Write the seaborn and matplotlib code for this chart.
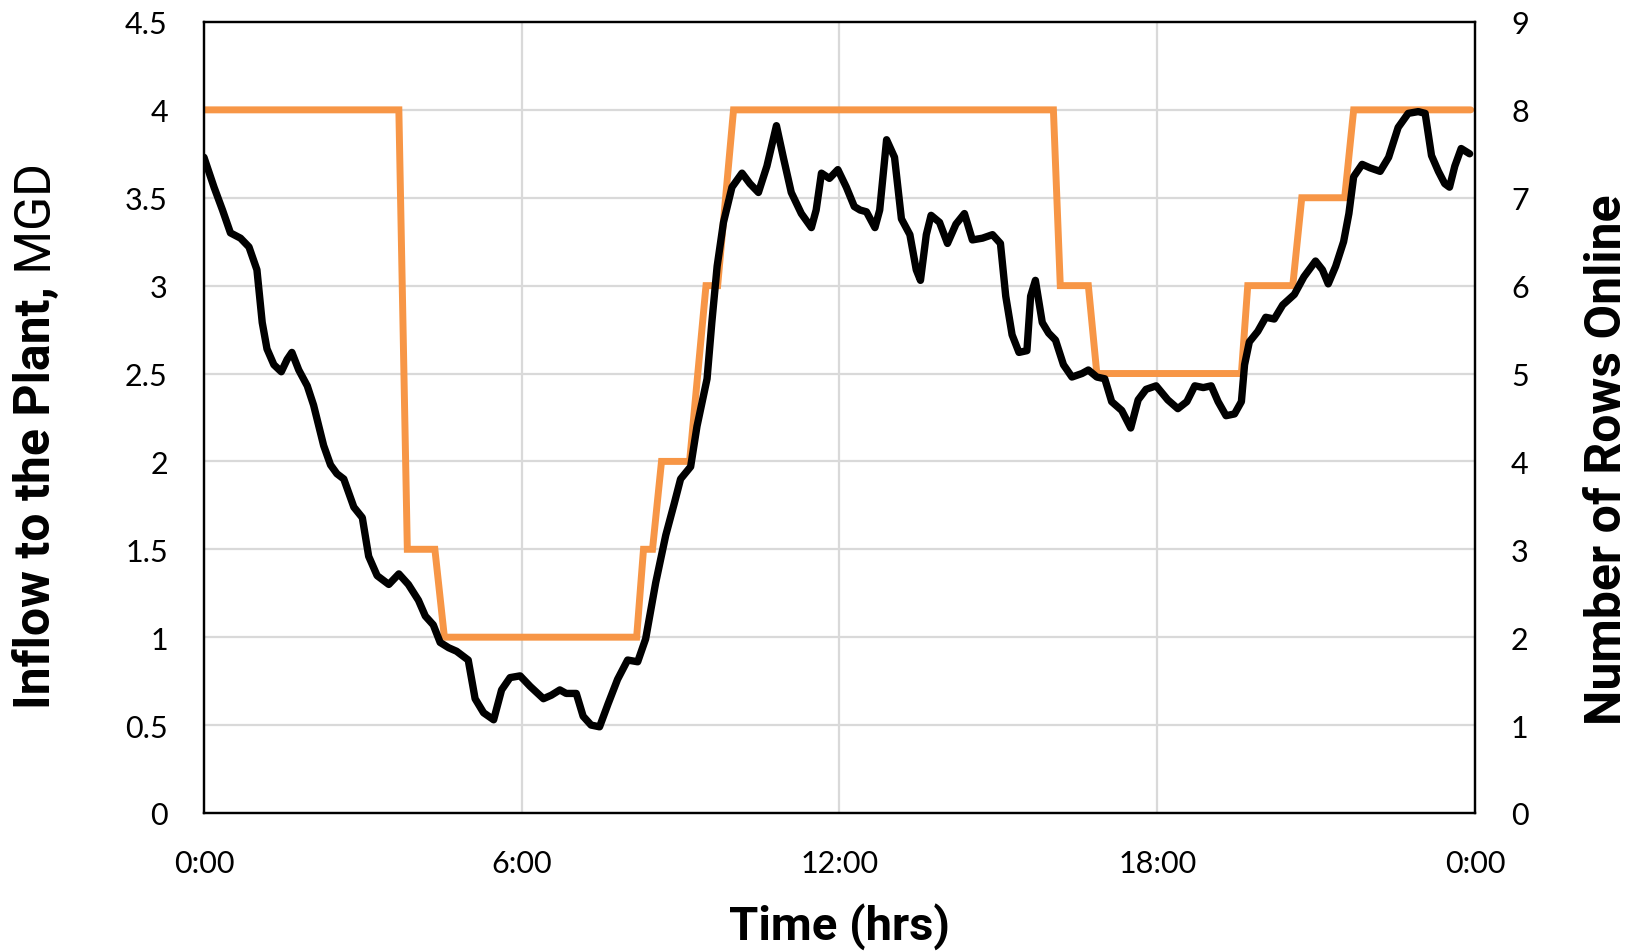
import matplotlib
matplotlib.use("Agg")
import matplotlib.pyplot as plt
import seaborn as sns
import pandas as pd
from matplotlib import font_manager

# ---------------- data ----------------
flow_hours = [0.00, 0.19, 0.35, 0.50, 0.69, 0.85, 1.00, 1.10, 1.19, 1.32, 1.46, 1.57, 1.66, 1.79,
              1.95, 2.07, 2.26, 2.39, 2.51, 2.64, 2.83, 2.99, 3.11, 3.27, 3.49, 3.68, 3.86, 4.05,
              4.18, 4.33, 4.46, 4.62, 4.77, 4.99, 5.12, 5.28, 5.47, 5.62, 5.78, 5.97, 6.16, 6.41,
              6.56, 6.72, 6.84, 7.03, 7.16, 7.31, 7.47, 7.63, 7.81, 8.00, 8.19, 8.34, 8.53, 8.72,
              8.88, 9.00, 9.19, 9.31, 9.50, 9.59, 9.69, 9.81, 9.97, 10.16, 10.31, 10.47, 10.63,
              10.81, 10.94, 11.09, 11.28, 11.47, 11.56, 11.66, 11.81, 11.97, 12.13, 12.28, 12.39,
              12.51, 12.67, 12.76, 12.89, 13.04, 13.17, 13.33, 13.45, 13.53, 13.64, 13.73, 13.89,
              14.04, 14.20, 14.36, 14.51, 14.70, 14.89, 15.04, 15.14, 15.26, 15.39, 15.54, 15.61,
              15.70, 15.83, 15.95, 16.08, 16.23, 16.39, 16.58, 16.70, 16.86, 17.01, 17.14, 17.33,
              17.50, 17.64, 17.79, 17.98, 18.20, 18.39, 18.56, 18.71, 18.87, 19.02, 19.15, 19.30,
              19.46, 19.59, 19.65, 19.74, 19.90, 20.05, 20.21, 20.37, 20.59, 20.77, 20.99, 21.12,
              21.23, 21.37, 21.52, 21.62, 21.71, 21.87, 22.02, 22.21, 22.37, 22.55, 22.74, 22.93,
              23.06, 23.18, 23.31, 23.43, 23.52, 23.62, 23.74, 23.90]
flow_mgd = [3.73, 3.56, 3.43, 3.30, 3.27, 3.22, 3.09, 2.79, 2.64, 2.55, 2.51, 2.58, 2.62, 2.52,
            2.43, 2.32, 2.09, 1.98, 1.93, 1.90, 1.74, 1.68, 1.46, 1.35, 1.30, 1.36, 1.30, 1.21,
            1.12, 1.07, 0.97, 0.94, 0.92, 0.87, 0.65, 0.57, 0.53, 0.70, 0.77, 0.78, 0.72, 0.65,
            0.67, 0.70, 0.68, 0.68, 0.55, 0.50, 0.49, 0.62, 0.76, 0.87, 0.86, 0.99, 1.31, 1.58,
            1.76, 1.90, 1.97, 2.20, 2.47, 2.79, 3.11, 3.36, 3.56, 3.64, 3.58, 3.53, 3.68,
            3.91, 3.73, 3.53, 3.41, 3.33, 3.43, 3.64, 3.61, 3.66, 3.56, 3.45, 3.43,
            3.42, 3.33, 3.43, 3.83, 3.73, 3.38, 3.29, 3.09, 3.03, 3.29, 3.40, 3.36,
            3.24, 3.35, 3.41, 3.26, 3.27, 3.29, 3.24, 2.94, 2.72, 2.62, 2.63, 2.94,
            3.03, 2.79, 2.73, 2.69, 2.55, 2.48, 2.50, 2.52, 2.48, 2.47, 2.34, 2.29,
            2.19, 2.35, 2.41, 2.43, 2.35, 2.30, 2.34, 2.43, 2.42, 2.43, 2.34, 2.26,
            2.27, 2.34, 2.55, 2.68, 2.74, 2.82, 2.81, 2.89, 2.95, 3.05, 3.14, 3.09,
            3.01, 3.11, 3.25, 3.41, 3.62, 3.69, 3.67, 3.65, 3.73, 3.90, 3.98, 3.99,
            3.98, 3.74, 3.65, 3.58, 3.56, 3.68, 3.78, 3.75]

rows_hours = [0.00, 3.68, 3.84, 4.36, 4.54, 8.17, 8.30, 8.47, 8.64, 9.17, 9.48, 9.70, 10.00,
              16.04, 16.17, 16.70, 16.86, 19.59, 19.71, 20.56, 20.73, 21.54, 21.71, 23.92]
rows_online = [8, 8, 3, 3, 2, 2, 3, 3, 4, 4, 6, 6, 8, 8, 6, 6, 5, 5, 6, 6, 7, 7, 8, 8]

x_ticks = [0, 6, 12, 18, 24]
x_tick_labels = ["0:00", "6:00", "12:00", "18:00", "0:00"]
left_ticks = [0, 0.5, 1, 1.5, 2, 2.5, 3, 3.5, 4, 4.5]
left_tick_labels = ["0", "0.5", "1", "1.5", "2", "2.5", "3", "3.5", "4", "4.5"]
right_ticks = [0, 1, 2, 3, 4, 5, 6, 7, 8, 9]

# ---------------- style ----------------
sns.set_theme(style="white")
available = {f.name for f in font_manager.fontManager.ttflist}
tick_family = [f for f in ["Lato", "Open Sans", "DejaVu Sans"] if f in available] or ["DejaVu Sans"]
title_family = [f for f in ["Liberation Sans Narrow", "Roboto", "Liberation Sans", "DejaVu Sans"]
                if f in available] or ["DejaVu Sans"]
plt.rcParams["font.family"] = tick_family + ["DejaVu Sans"]
plt.rcParams["text.color"] = "black"

ORANGE = "#F79646"
GRID = "#D9D9D9"

fig = plt.figure(figsize=(16.37, 9.53), dpi=100)
ax = fig.add_axes([0.1246, 0.1459, 0.7764, 0.8300])
ax2 = ax.twinx()

flow_df = pd.DataFrame({"hour": flow_hours, "flow": flow_mgd})
rows_df = pd.DataFrame({"hour": rows_hours, "rows": rows_online})

sns.lineplot(data=flow_df, x="hour", y="flow", ax=ax, color="black", linewidth=5.3,
             estimator=None, sort=False, legend=False)
sns.lineplot(data=rows_df, x="hour", y="rows", ax=ax2, color=ORANGE, linewidth=5.0,
             estimator=None, sort=False, legend=False)
for ln in ax.get_lines():
    ln.set_solid_joinstyle("round"); ln.set_solid_capstyle("round")
for ln in ax2.get_lines():
    ln.set_solid_joinstyle("miter"); ln.set_solid_capstyle("round")

# black line on top, grid beneath both
ax.set_zorder(ax2.get_zorder() + 1)
ax.patch.set_visible(False)
ax2.patch.set_visible(True)
ax2.patch.set_facecolor("white")

ax.set_xlim(0, 24)
ax.set_ylim(0, 4.5)
ax2.set_ylim(0, 9)

ax.set_xticks(x_ticks)
ax.set_xticklabels(x_tick_labels)
ax.set_yticks(left_ticks)
ax.set_yticklabels(left_tick_labels)
ax2.set_yticks(right_ticks)

ax2.set_xticks(x_ticks)
ax2.grid(False)
ax.grid(False)
for v in left_ticks[1:-1]:
    ax2.axhline(v * 2, color=GRID, linewidth=1.6, zorder=0)
for h in x_ticks[1:-1]:
    ax2.axvline(h, color=GRID, linewidth=1.6, zorder=0)

ax.tick_params(axis="both", length=0, labelsize=22, colors="black")
ax.tick_params(axis="y", pad=26)
ax.tick_params(axis="x", pad=26)
ax2.tick_params(axis="y", length=0, labelsize=22, pad=26, colors="black")
ax2.tick_params(axis="x", length=0, labelbottom=False)

ax.set_xlabel("")
ax.set_ylabel("")
ax2.set_ylabel("")

for a in (ax, ax2):
    for s in a.spines.values():
        s.set_visible(True)
        s.set_color("black")
        s.set_linewidth(1.6)

# ---------------- titles ----------------
fig.text(0.513, 0.028, "Time (hrs)", ha="center", va="center", fontsize=34,
         fontweight="bold", family=title_family, color="black")
t_bold = fig.text(0.0226, 0.256, "Inflow to the Plant,", ha="center", va="bottom", rotation=90,
                  fontsize=36, fontweight="bold", family=title_family, color="black")
ax.annotate(" MGD", xy=(0.5, 1.0), xycoords=t_bold, ha="center", va="bottom", rotation=90,
            fontsize=36, fontweight="normal", family=title_family, color="black",
            annotation_clip=False)
fig.text(0.982, 0.518, "Number of Rows Online", ha="center", va="center", rotation=90,
         fontsize=36, fontweight="bold", family=title_family, color="black")

fig.savefig("out.png", dpi=100)
